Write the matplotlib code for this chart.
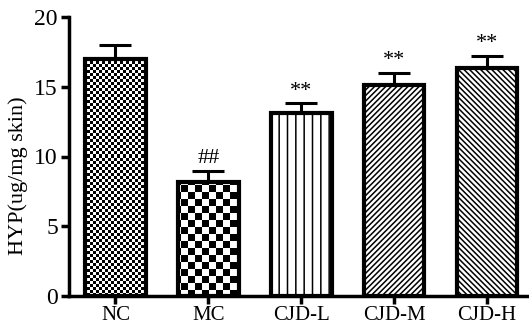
import numpy as np
import matplotlib
matplotlib.use("Agg")
import matplotlib.pyplot as plt

plt.rcParams['font.family'] = ['Liberation Serif', 'DejaVu Serif']
plt.rcParams['hatch.linewidth'] = 1.1

# 数据
groups = ['NC', 'MC', 'CJD-L', 'CJD-M', 'CJD-H']
hyp = [17.0, 8.15, 13.1, 15.1, 16.35]
sem = [1.0, 0.8, 0.7, 0.9, 0.85]
marks = ['', '##', '**', '**', '**']
hatches = [None, None, '||', '//////', '\\\\\\\\\\\\']

fig = plt.figure(figsize=(5.29, 3.26), dpi=100)
ax = fig.add_axes([69 / 529, 30 / 326, 1 - 69 / 529, (296 - 17) / 326])

x = np.arange(len(groups))
bars = ax.bar(x, hyp, width=0.65, color='white', edgecolor='black',
              linewidth=3, zorder=3)
for b, h in zip(bars, hatches):
    if h:
        b.set_hatch(h)

ax.errorbar(x, hyp, yerr=[np.zeros(len(sem)), sem], fmt='none',
            ecolor='black', elinewidth=2.2, capsize=11.5, capthick=2.2, zorder=2)

ax.set_xlim(-0.5, 4.45)
ax.set_ylim(0, 20)

# 棋盘格纹理 (NC 细, MC 粗)
fig.canvas.draw()
bb = ax.get_window_extent()
W, H = int(bb.width), int(bb.height)
yy, xx = np.mgrid[0:H, 0:W]
for i, cell in [(0, 3), (1, 7)]:
    bars[i].set_facecolor('none')
    board = ((yy // cell + xx // cell) % 2).astype(float)
    im = ax.imshow(board, cmap='gray', vmin=0, vmax=1, interpolation='nearest',
                   extent=(-0.5, 4.45, 0, 20), aspect='auto', zorder=2.9)
    im.set_clip_path(bars[i])
ax.set_xlim(-0.5, 4.45)
ax.set_ylim(0, 20)

for xi, v, e, m in zip(x, hyp, sem, marks):
    if m:
        ax.text(xi, v + e + 0.2, m, ha='center', va='bottom', fontsize=16)

ax.set_xticks(x)
ax.set_xticklabels(groups)
ax.set_yticks([0, 5, 10, 15, 20])
ax.set_ylabel('HYP(ug/mg skin)', fontsize=16)
ax.yaxis.set_label_coords(-0.09, 0.43)
ax.tick_params(width=2.5, length=6, labelsize=17, pad=2)
ax.tick_params(axis='x', labelsize=15, pad=1)
for s in ['top', 'right']:
    ax.spines[s].set_visible(False)
for s in ['left', 'bottom']:
    ax.spines[s].set_linewidth(2.5)

plt.savefig('out.png', dpi=100)
